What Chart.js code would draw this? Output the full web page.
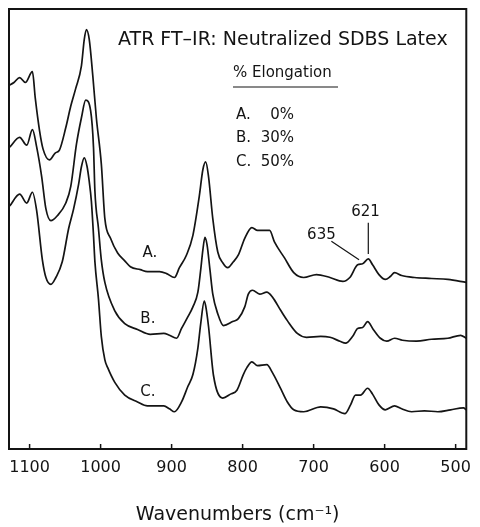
<!DOCTYPE html>
<html>
<head>
<meta charset="utf-8">
<title>ATR FT-IR: Neutralized SDBS Latex</title>
<script src="https://cdn.jsdelivr.net/npm/chart.js@4/dist/chart.umd.min.js"></script>
<style>
  html, body { margin: 0; padding: 0; background: #fff; }
  #wrap { width: 480px; height: 527px; }
</style>
</head>
<body>
<div id="wrap"><canvas id="irChart" width="480" height="527"></canvas></div>
<script>
// Wavenumber axis (cm-1), drawn high -> low like the original spectrum.
const X_TICKS = [1100, 1000, 900, 800, 700, 600, 500];
const X_MIN = 485;
const X_MAX = 1129;

// Stacked absorbance traces (arbitrary units, already offset as in the figure).
const WN_A = [1129, 1122, 1114, 1106, 1096, 1092, 1086, 1081, 1072, 1064, 1058, 1049, 1042, 1035, 1027, 1023, 1020,
  1016, 1011, 1006, 999, 994, 986, 976, 966, 958, 944, 934, 917, 907, 896, 889, 879, 870, 861, 856, 852, 848,
  842, 835, 828, 821, 813, 806, 797, 787, 779, 769, 762, 755, 741, 728, 714, 696, 677, 659, 649, 638, 631, 623,
  617, 608, 599, 592, 586, 576, 558, 534, 511, 485];
const ABS_A = [3.71, 3.74, 3.79, 3.74, 3.85, 3.58, 3.25, 3.06, 2.95, 3.02, 3.05, 3.28, 3.50, 3.68, 3.91, 4.18, 4.28,
  4.18, 3.81, 3.38, 2.91, 2.35, 2.15, 2.00, 1.92, 1.86, 1.83, 1.81, 1.81, 1.79, 1.75, 1.85, 1.98, 2.18, 2.58, 2.85, 2.93, 2.78,
  2.35, 2.01, 1.90, 1.85, 1.91, 1.98, 2.15, 2.26, 2.23, 2.23, 2.23, 2.11, 1.95, 1.80, 1.75, 1.78, 1.75, 1.71, 1.75, 1.88, 1.89, 1.94,
  1.88, 1.78, 1.73, 1.76, 1.80, 1.77, 1.75, 1.74, 1.73, 1.70];

const WN_B = [1128, 1114, 1104, 1096, 1090, 1083, 1077, 1070, 1061, 1049, 1042, 1034, 1027, 1021, 1014, 1010, 1008,
  1003, 999, 994, 980, 966, 948, 930, 911, 903, 893, 886, 877, 870, 863, 859, 856, 853, 850, 846, 842, 835, 827,
  814, 806, 797, 792, 786, 776, 766, 758, 746, 737, 723, 710, 690, 677, 663, 655, 645, 638, 631, 624, 616, 606,
  597, 586, 575, 555, 534, 511, 493, 485];
const ABS_B = [3.08, 3.18, 3.10, 3.26, 3.08, 2.78, 2.45, 2.33, 2.38, 2.51, 2.68, 3.11, 3.38, 3.56, 3.45, 3.08, 2.63,
  2.25, 1.93, 1.70, 1.41, 1.28, 1.22, 1.17, 1.18, 1.16, 1.13, 1.23, 1.35, 1.45, 1.60, 1.83, 2.03, 2.16, 2.08, 1.83, 1.58, 1.38, 1.26,
  1.30, 1.33, 1.45, 1.58, 1.62, 1.58, 1.60, 1.55, 1.41, 1.31, 1.18, 1.14, 1.15, 1.14, 1.10, 1.08, 1.15, 1.23, 1.24, 1.30, 1.22, 1.13,
  1.10, 1.13, 1.11, 1.10, 1.12, 1.13, 1.16, 1.13];

const WN_C = [1128, 1114, 1104, 1096, 1090, 1082, 1077, 1070, 1063, 1054, 1045, 1038, 1031, 1027, 1023, 1019, 1016,
  1013, 1010, 1008, 1003, 999, 994, 990, 980, 966, 948, 934, 911, 903, 896, 886, 877, 870, 863, 859, 854, 852,
  848, 841, 828, 817, 808, 799, 794, 787, 779, 766, 758, 746, 737, 728, 714, 690, 672, 656, 648, 641, 634, 624,
  617, 608, 599, 586, 576, 562, 544, 525, 507, 489, 485];
const ABS_C = [2.48, 2.60, 2.51, 2.62, 2.43, 1.93, 1.75, 1.68, 1.75, 1.91, 2.25, 2.45, 2.70, 2.88, 2.97, 2.88, 2.73,
  2.53, 2.18, 1.91, 1.53, 1.15, 0.91, 0.83, 0.68, 0.55, 0.48, 0.44, 0.44, 0.41, 0.38, 0.48, 0.64, 0.76, 1.03, 1.28, 1.51, 1.46,
  1.25, 0.75, 0.52, 0.56, 0.60, 0.76, 0.83, 0.89, 0.85, 0.86, 0.78, 0.61, 0.48, 0.40, 0.38, 0.43, 0.41, 0.36, 0.45, 0.55, 0.55, 0.62,
  0.56, 0.45, 0.40, 0.44, 0.41, 0.38, 0.39, 0.38, 0.40, 0.42, 0.40];

const SERIES = [
  { label: 'A. 0%', wn: WN_A, abs: ABS_A },
  { label: 'B. 30%', wn: WN_B, abs: ABS_B },
  { label: 'C. 50%', wn: WN_C, abs: ABS_C },
];

const INK = '#141414';
const FONT = '"DejaVu Sans", "Liberation Sans", sans-serif';

// Title, legend block, trace letters and the 635/621 pointers; the frame and
// inward tick marks are drawn here too since the scan has no gridlines.
const notesPlugin = {
  id: 'notes',
  afterDraw(chart) {
    const { ctx, chartArea: a, scales: { x, y } } = chart;
    const px = v => x.getPixelForValue(v);
    const py = v => y.getPixelForValue(v);
    ctx.save();
    ctx.strokeStyle = INK;
    ctx.fillStyle = INK;

    ctx.lineWidth = 2;
    ctx.strokeRect(a.left, a.top, a.right - a.left, a.bottom - a.top);
    ctx.lineWidth = 1.5;
    X_TICKS.forEach(v => {
      ctx.beginPath();
      ctx.moveTo(px(v), a.bottom);
      ctx.lineTo(px(v), a.bottom - 5);
      ctx.stroke();
    });

    ctx.textBaseline = 'middle';
    ctx.textAlign = 'left';
    ctx.font = '19px ' + FONT;
    ctx.fillText('ATR FT\u2013IR: Neutralized SDBS Latex', 118, 40);

    ctx.font = '15px ' + FONT;
    ctx.fillText('% Elongation', 233, 73);
    ctx.lineWidth = 1.2;
    ctx.beginPath();
    ctx.moveTo(233, 87);
    ctx.lineTo(338, 87);
    ctx.stroke();

    const rows = [['A.', '0%', 115], ['B.', '30%', 138], ['C.', '50%', 162]];
    rows.forEach(([k, pct, ty]) => {
      ctx.textAlign = 'left';
      ctx.fillText(k, 236, ty);
      ctx.textAlign = 'right';
      ctx.fillText(pct, 294, ty);
    });

    // trace letters, anchored in data space
    ctx.font = '15px ' + FONT;
    ctx.textAlign = 'left';
    ctx.fillText('A.', px(941), py(2.00));
    ctx.fillText('B.', px(944), py(1.33));
    ctx.fillText('C.', px(944), py(0.58));

    // peak pointers on trace A
    ctx.textAlign = 'center';
    ctx.fillText('635', px(689), py(2.18));
    ctx.fillText('621', px(627), py(2.42));
    ctx.lineWidth = 1.2;
    ctx.beginPath();
    ctx.moveTo(px(675), py(2.12));
    ctx.lineTo(px(636), py(1.93));
    ctx.moveTo(px(623), py(2.31));
    ctx.lineTo(px(623), py(1.99));
    ctx.stroke();
    ctx.restore();
  },
};

new Chart(document.getElementById('irChart'), {
  type: 'line',
  data: {
    datasets: SERIES.map(s => ({
      label: s.label,
      data: s.wn.map((w, i) => ({ x: w, y: s.abs[i] })),
      borderColor: INK,
      backgroundColor: 'transparent',
      borderWidth: 1.7,
      pointRadius: 0,
      cubicInterpolationMode: 'monotone',
      fill: false,
    })),
  },
  options: {
    responsive: false,
    animation: false,
    devicePixelRatio: 1,
    layout: { padding: { left: 9, right: 4, top: 9, bottom: 1 } },
    plugins: { legend: { display: false }, tooltip: { enabled: false } },
    scales: {
      x: {
        type: 'linear',
        reverse: true,
        min: X_MIN,
        max: X_MAX,
        afterBuildTicks: scale => { scale.ticks = X_TICKS.map(v => ({ value: v })); },
        grid: { display: false, drawTicks: false },
        border: { display: false },
        ticks: {
          color: INK,
          padding: 9,
          maxRotation: 0,
          autoSkip: false,
          font: { family: FONT, size: 16 },
          callback: v => String(v),
        },
        title: {
          display: true,
          text: 'Wavenumbers (cm\u207B\u00B9)',
          color: INK,
          font: { family: FONT, size: 19 },
          padding: { top: 17, bottom: 0 },
        },
      },
      y: {
        display: false,
        min: 0,
        max: 4.49,
      },
    },
  },
  plugins: [notesPlugin],
});
</script>
</body>
</html>
